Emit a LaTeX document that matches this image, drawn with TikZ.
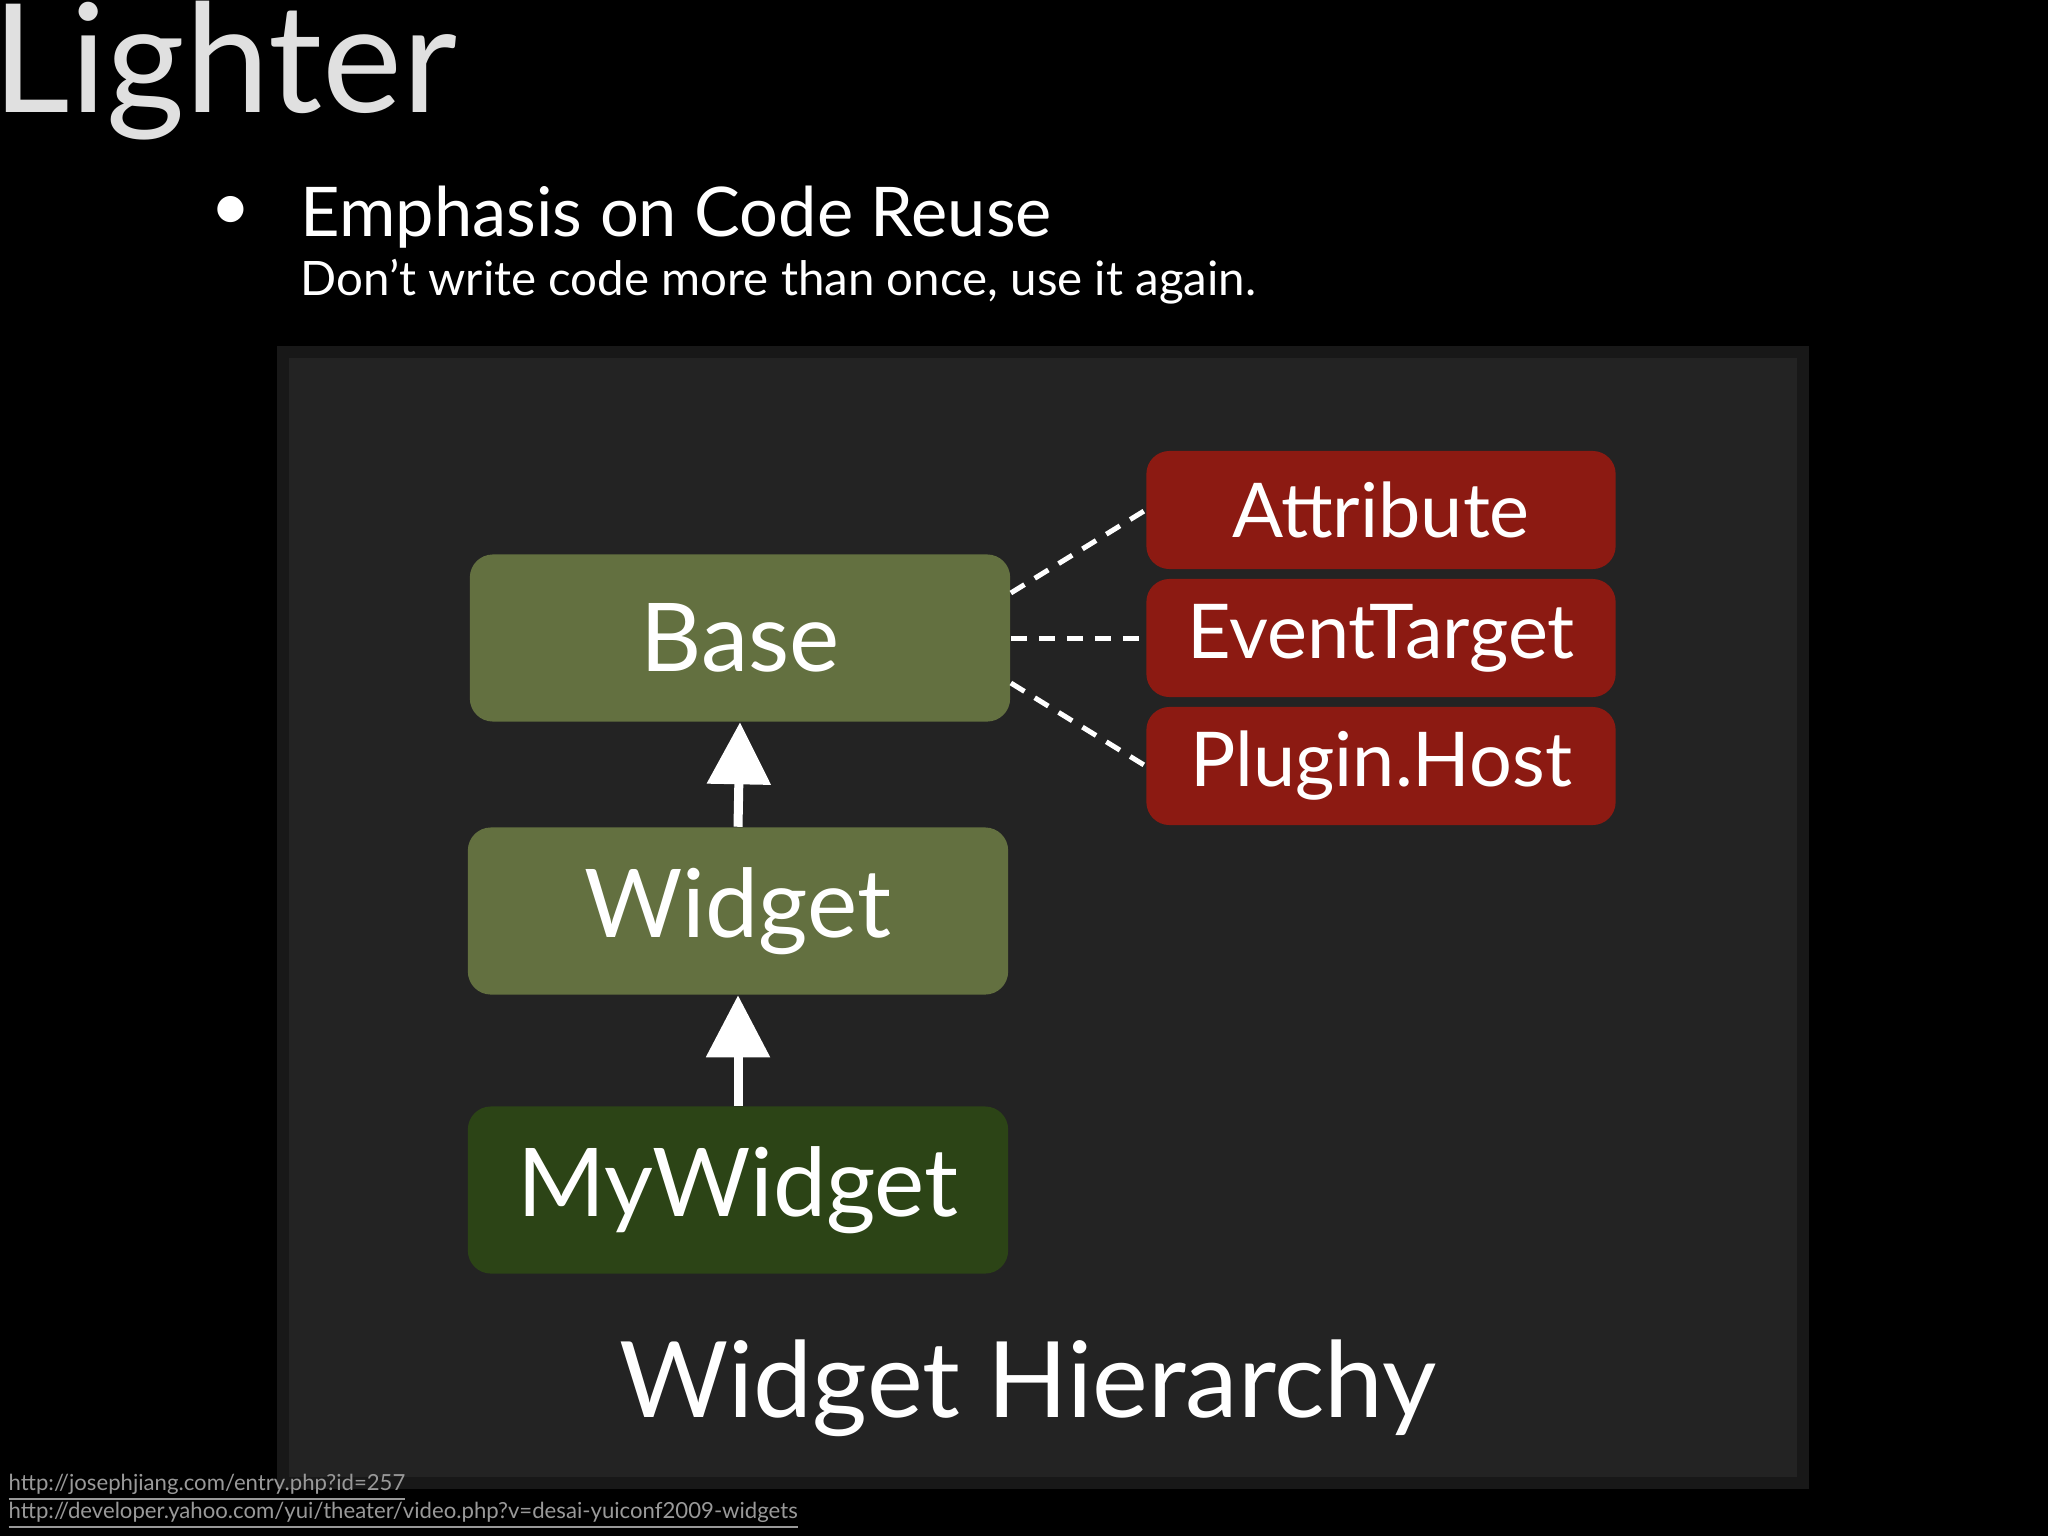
\documentclass[tikz,border=0pt]{standalone}
\usepackage{fontspec}
\setmainfont{Lato}
\usetikzlibrary{arrows.meta,shadows}
\definecolor{olive}{HTML}{637040}
\definecolor{dgreen}{HTML}{2C4416}
\definecolor{dred}{HTML}{8C1A12}
\definecolor{panel}{HTML}{232323}
\tikzset{
 box/.style={draw=none,rounded corners=0.23cm,inner sep=0pt,text=white},
 gbox/.style={box,fill=olive,minimum width=5.4cm,minimum height=1.67cm,font=\fontsize{27}{28}\selectfont},
 rbox/.style={box,fill=dred,minimum width=4.69cm,minimum height=1.18cm,font=\fontsize{21.5}{22}\selectfont},
 inh/.style={white,line width=0.09cm,-{Triangle[width=0.62cm,length=0.62cm]}},
 dep/.style={white,line width=0.05cm,dash pattern=on 0.16cm off 0.12cm},
 url/.style={anchor=base west,text=gray!80,font=\fontsize{6.3}{7}\selectfont,inner sep=0pt}
}
\begin{document}
\begin{tikzpicture}[x=0.01cm,y=-0.01cm]
\fill[black] (0,0) rectangle (2048,1536);
\useasboundingbox (0,0) rectangle (2048,1536);
\fill[panel] (277,346) rectangle (1809,1489);
\draw[panel!70!black,line width=0.12cm] (283,352) rectangle (1803,1483);
\node[anchor=base west,text=white!88!black,font=\fontsize{43}{44}\selectfont,inner sep=0pt] (title) at (-8,112) {Lighter};
\node[text=white,font=\fontsize{20}{22}\selectfont,inner sep=0pt] (bul) at (231,213) {•};
\node[anchor=base west,text=white,font=\fontsize{19.5}{22}\selectfont,inner sep=0pt] (emph) at (300,236) {Emphasis on Code Reuse};
\node[anchor=base west,text=white,font=\fontsize{13.5}{16}\selectfont,inner sep=0pt] (sub) at (300,295) {Don’t write code more than once, use it again.};
\node[gbox] (base) at (740,638) {Base};
\node[gbox] (widget) at (738,911) {Widget};
\node[gbox,fill=dgreen] (my) at (738,1190) {MyWidget};
\node[rbox] (attr) at (1381,510) {Attribute};
\node[rbox] (evt) at (1381,638) {EventTarget};
\node[rbox] (plug) at (1381,766) {Plugin.Host};
\draw[inh] (widget.north) -- (base.south);
\draw[inh] (my.north) -- (widget.south);
\draw[dep] ([yshift=0.45cm]base.east) -- (attr.west);
\draw[dep] (base.east) -- (evt.west);
\draw[dep] ([yshift=-0.45cm]base.east) -- (plug.west);
\node[anchor=base,text=white,font=\fontsize{30}{32}\selectfont,inner sep=0pt] (wh) at (1028,1417) {Widget Hierarchy};
\node[url] (u1) at (8,1490) {\underline{http://josephjiang.com/entry.php?id=257}};
\node[url] (u2) at (8,1518) {\underline{http://developer.yahoo.com/yui/theater/video.php?v=desai-yuiconf2009-widgets}};
\end{tikzpicture}
\end{document}
